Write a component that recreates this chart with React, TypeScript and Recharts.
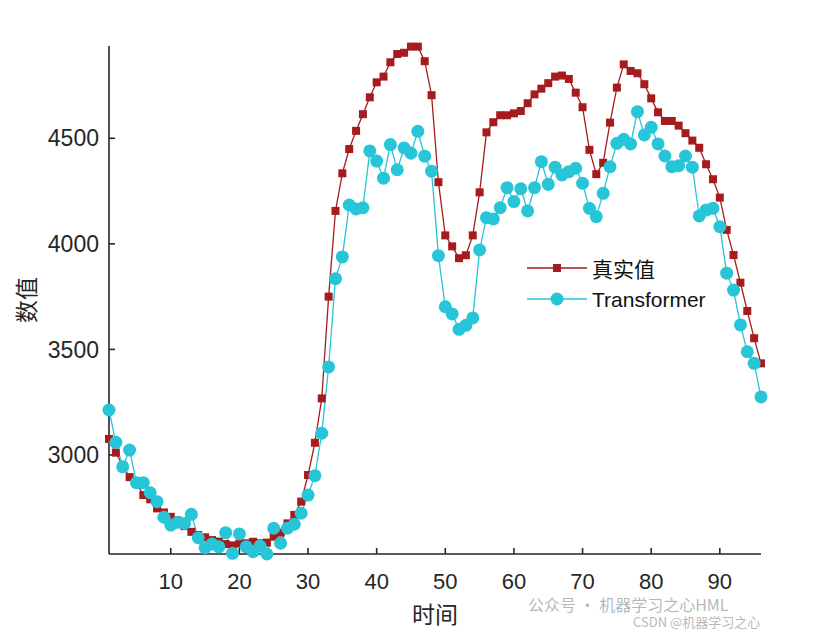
import { LineChart, Line, XAxis, YAxis, Legend } from "recharts";

document.body.style.margin = "0";

// measured series, index 1..96
const actual = [
  3076, 3011, 2950, 2895, 2870, 2810, 2790, 2747, 2728, 2707,
  2690, 2663, 2636, 2621, 2610, 2597, 2590, 2578, 2572, 2580,
  2582, 2589, 2582, 2585, 2613, 2632, 2676, 2716, 2779, 2905,
  3058, 3268, 3750, 4156, 4334, 4449, 4535, 4614, 4694, 4765,
  4792, 4860, 4899, 4905, 4934, 4934, 4865, 4704, 4292, 4040,
  3988, 3932, 3946, 4040, 4244, 4528, 4576, 4609, 4609, 4618,
  4629, 4666, 4708, 4735, 4761, 4792, 4797, 4781, 4716, 4647,
  4445, 4330, 4384, 4574, 4740, 4850, 4819, 4808, 4756, 4689,
  4623, 4582, 4582, 4560, 4524, 4489, 4455, 4377, 4306, 4219,
  4066, 3947, 3816, 3682, 3553, 3434,
];

const transformer = [
  3213, 3060, 2944, 3023, 2869, 2869, 2821, 2779, 2705, 2668,
  2681, 2676, 2719, 2608, 2561, 2578, 2565, 2632, 2534, 2626,
  2565, 2542, 2569, 2531, 2653, 2582, 2653, 2672, 2724, 2810,
  2902, 3103, 3417, 3835, 3938, 4184, 4165, 4171, 4440, 4392,
  4311, 4470, 4351, 4454, 4429, 4533, 4415, 4344, 3944, 3702,
  3668, 3595, 3614, 3649, 3971, 4124, 4118, 4171, 4266, 4200,
  4261, 4156, 4266, 4389, 4282, 4363, 4326, 4342, 4358, 4287,
  4168, 4129, 4239, 4365, 4476, 4495, 4473, 4626, 4516, 4552,
  4473, 4416, 4365, 4370, 4416, 4363, 4132, 4160, 4168, 4081,
  3861, 3781, 3616, 3489, 3434, 3275,
];

const xTicks = [10, 20, 30, 40, 50, 60, 70, 80, 90];
const yTicks = [3000, 3500, 4000, 4500];

const data = actual.map((v, i) => ({ t: i + 1, actual: v, transformer: transformer[i] }));

const RED = "#a61b1d";
const CYAN = "#27c5d8";
const AXIS = "#262626";
const FONT = "'Liberation Sans', Arial, sans-serif";
const CJK = "'Noto Sans CJK SC', sans-serif";

const Square = (props: any) => {
  const { cx, cy, index } = props;
  if (cx == null || cy == null) return <g key={`sq-${index}`} />;
  return <rect key={`sq-${index}`} x={cx - 4} y={cy - 4} width={8} height={8} fill={RED} />;
};

const YTitle = ({ viewBox }: any) => {
  const x = viewBox.x + 25;
  const y = viewBox.y + viewBox.height / 2;
  return (
    <text x={x} y={y} transform={`rotate(-90 ${x} ${y})`} textAnchor="middle" dominantBaseline="central"
      fontSize={23} fontFamily={CJK} fill={AXIS}>
      数值
    </text>
  );
};

const XTitle = ({ viewBox }: any) => {
  const x = viewBox.x + viewBox.width / 2;
  const y = viewBox.y + 59;
  return (
    <text x={x} y={y} textAnchor="middle" dominantBaseline="central" fontSize={23} fontFamily={CJK} fill={AXIS}>
      时间
    </text>
  );
};

const LegendBox = () => (
  <svg width={200} height={60}>
    <line x1={0} y1={14} x2={60} y2={14} stroke={RED} strokeWidth={1.3} />
    <rect x={26} y={10} width={8} height={8} fill={RED} />
    <text x={65} y={14} dominantBaseline="central" fontSize={21} fontFamily={CJK} fill="#111">真实值</text>
    <line x1={0} y1={45} x2={60} y2={45} stroke={CYAN} strokeWidth={1.3} />
    <circle cx={30} cy={45} r={6.5} fill={CYAN} />
    <text x={65} y={45} dominantBaseline="central" fontSize={21} fontFamily={FONT} fill="#111">Transformer</text>
  </svg>
);

export default function App() {
  return (
    <div style={{ position: "relative", width: 840, height: 630, background: "#fff" }}>
      <LineChart width={840} height={630} data={data} margin={{ top: 46, right: 79, bottom: 0, left: 0 }}>
        <XAxis
          type="number"
          dataKey="t"
          domain={[1, 96]}
          ticks={xTicks}
          height={76}
          axisLine={{ stroke: AXIS, strokeWidth: 1.6 }}
          tickLine={{ stroke: AXIS, strokeWidth: 1.6 }}
          tickSize={-6}
          tickMargin={25}
          tick={{ fontSize: 22, fill: AXIS, fontFamily: FONT }}
          label={<XTitle />}
        />
        <YAxis
          type="number"
          domain={[2531, 4937]}
          ticks={yTicks}
          width={109}
          axisLine={{ stroke: AXIS, strokeWidth: 1.6 }}
          tickLine={{ stroke: AXIS, strokeWidth: 1.6 }}
          tickSize={-6}
          tickMargin={16}
          tick={{ fontSize: 23, fill: AXIS, fontFamily: FONT }}
          label={<YTitle />}
        />
        <Legend
          layout="horizontal"
          verticalAlign="middle"
          align="center"
          content={<LegendBox />}
          wrapperStyle={{ left: 527, top: 254, width: 200, height: 60 }}
        />
        <Line
          type="linear"
          dataKey="actual"
          name="真实值"
          stroke={RED}
          strokeWidth={1.3}
          dot={Square}
          activeDot={false}
          isAnimationActive={false}
        />
        <Line
          type="linear"
          dataKey="transformer"
          name="Transformer"
          stroke={CYAN}
          strokeWidth={1.3}
          dot={{ r: 6.5, fill: CYAN, stroke: "none" }}
          activeDot={false}
          isAnimationActive={false}
        />
      </LineChart>
      <div style={{ position: "absolute", left: 528, top: 596, fontFamily: CJK, fontSize: 16, lineHeight: "16px", color: "rgba(120,120,120,0.55)", whiteSpace: "nowrap" }}>
        公众号 · 机器学习之心HML
      </div>
      <div style={{ position: "absolute", left: 633, top: 615, fontFamily: CJK, fontSize: 13, lineHeight: "14px", color: "rgba(120,120,120,0.55)", whiteSpace: "nowrap" }}>
        CSDN @机器学习之心
      </div>
    </div>
  );
}
